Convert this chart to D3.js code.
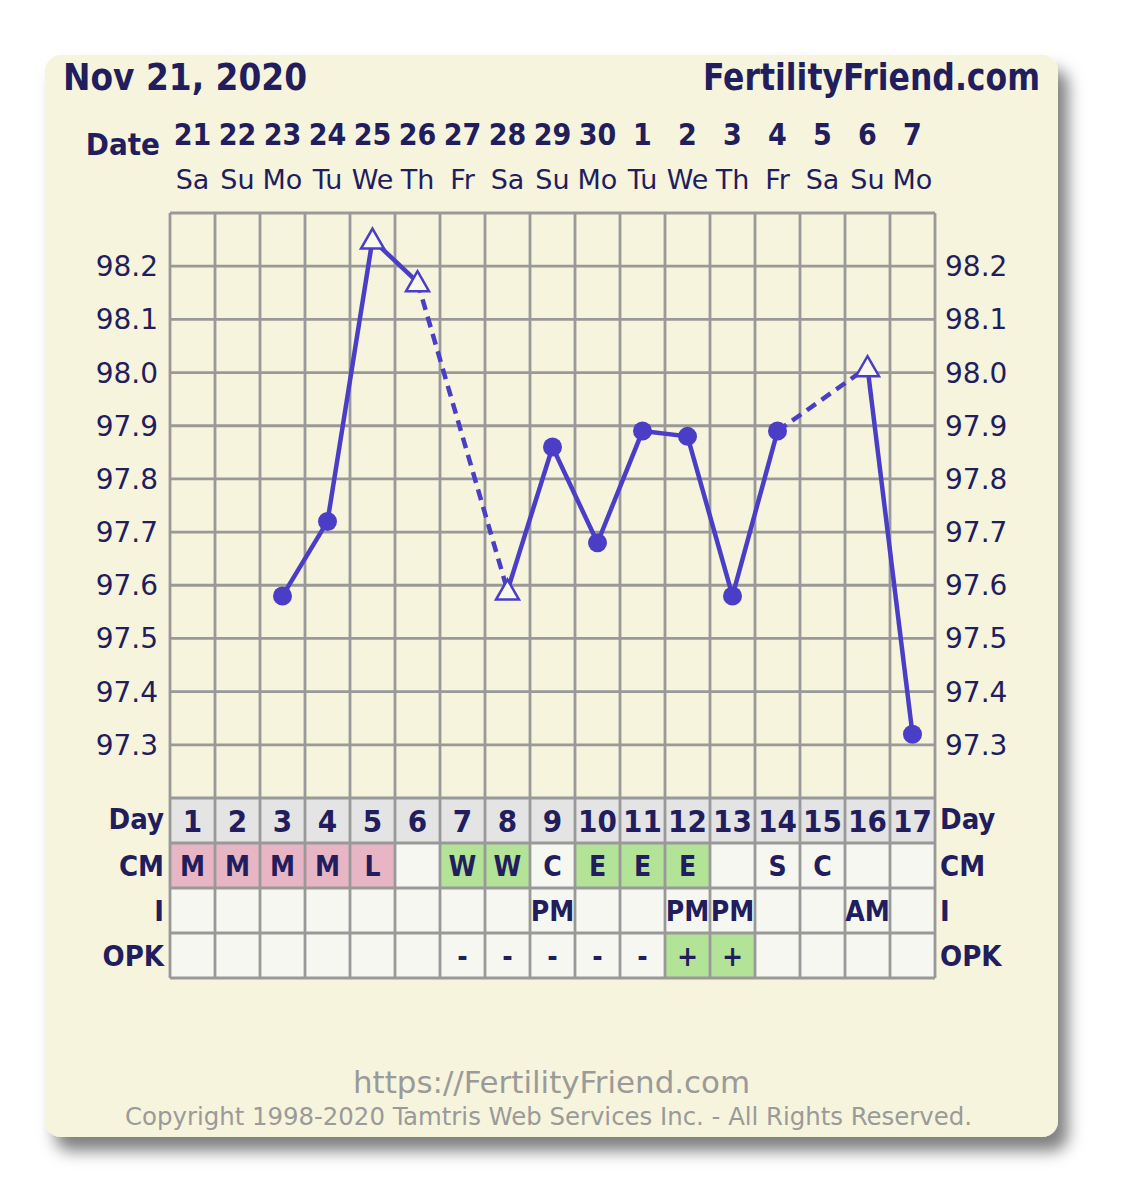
<!DOCTYPE html>
<html>
<head>
<meta charset="utf-8">
<script src="https://cdnjs.cloudflare.com/ajax/libs/d3/7.8.5/d3.min.js"></script>
<style>
  html, body { margin: 0; padding: 0; background: #ffffff; }
  svg { display: block; }
  .cond { font-family: "DejaVu Sans Condensed", "DejaVu Sans", sans-serif; font-stretch: condensed; }
  .reg { font-family: "DejaVu Sans", Verdana, sans-serif; }
</style>
</head>
<body>
<svg id="chart" width="1125" height="1178"></svg>
<script>
// chart data
var dates    = ["21","22","23","24","25","26","27","28","29","30","1","2","3","4","5","6","7"];
var weekdays = ["Sa","Su","Mo","Tu","We","Th","Fr","Sa","Su","Mo","Tu","We","Th","Fr","Sa","Su","Mo"];
var cycleDays = ["1","2","3","4","5","6","7","8","9","10","11","12","13","14","15","16","17"];
var temps    = [null, null, 97.58, 97.72, 98.25, 98.17, null, 97.59, 97.86, 97.68, 97.89, 97.88, 97.58, 97.89, null, 98.01, 97.32];
var tempMark = ["", "", "c", "c", "t", "t", "", "t", "c", "c", "c", "c", "c", "c", "", "t", "c"];
var cmVals   = ["M","M","M","M","L","","W","W","C","E","E","E","","S","C","",""];
var intVals  = ["","","","","","","","","PM","","","PM","PM","","","AM",""];
var opkVals  = ["","","","","","","-","-","-","-","-","+","+","","","",""];
var yTicks   = [97.3, 97.4, 97.5, 97.6, 97.7, 97.8, 97.9, 98.0, 98.1, 98.2];
var yGrid    = [97.2, 97.3, 97.4, 97.5, 97.6, 97.7, 97.8, 97.9, 98.0, 98.1, 98.2, 98.3];

var ink = "#221d5c";
var lineCol = "#4a3ec6";
var gridCol = "#999999";
var cardBg = "#f6f4dc";
var cellBg = "#f7f7f2";

var svg = d3.select("#chart");

var defs = svg.append("defs");
var f = defs.append("filter").attr("id", "shadow")
	.attr("x", "-5%").attr("y", "-5%").attr("width", "115%").attr("height", "115%");
f.append("feDropShadow").attr("dx", 10).attr("dy", 14).attr("stdDeviation", 8)
	.attr("flood-color", "#000").attr("flood-opacity", 0.5);

// card
svg.append("rect")
	.attr("x", 45).attr("y", 55).attr("width", 1013).attr("height", 1082)
	.attr("rx", 16).attr("ry", 16)
	.attr("fill", cardBg)
	.attr("filter", "url(#shadow)");

var gridLeft = 170, colW = 45, nCols = dates.length;
var gridRight = gridLeft + colW * nCols;
var rowH = 45;
var tableTop = 798;

var x = d3.scaleBand().domain(d3.range(nCols)).range([gridLeft, gridRight]);
var y = d3.scaleLinear().domain([97.2, 98.3]).range([tableTop, 213]);

var rows = [
	{ name: "Day", vals: cycleDays },
	{ name: "CM", vals: cmVals },
	{ name: "I", vals: intVals },
	{ name: "OPK", vals: opkVals }
];
var rowY = d3.scaleBand().domain(d3.range(rows.length)).range([tableTop, tableTop + rowH * rows.length]);

function cellFill(r, v) {
	if (r === 0) return "#e4e4e4";
	if (r === 1 && (v === "M" || v === "L")) return "#e7b5c3";
	if (r === 1 && (v === "W" || v === "E")) return "#b3e396";
	if (r === 3 && v === "+") return "#b3e396";
	return cellBg;
}

// title
svg.append("text").attr("class", "cond")
	.attr("x", 63).attr("y", 90)
	.attr("font-size", 38).attr("font-weight", "bold").attr("fill", ink)
	.attr("textLength", 244).attr("lengthAdjust", "spacingAndGlyphs")
	.text("Nov 21, 2020");
svg.append("text").attr("class", "cond")
	.attr("x", 703).attr("y", 90)
	.attr("font-size", 38).attr("font-weight", "bold").attr("fill", ink)
	.attr("textLength", 337).attr("lengthAdjust", "spacingAndGlyphs")
	.text("FertilityFriend.com");

// date header
svg.append("text").attr("class", "cond")
	.attr("x", 160).attr("y", 155).attr("text-anchor", "end")
	.attr("font-size", 31).attr("font-weight", "bold").attr("fill", ink)
	.text("Date");
svg.append("g").selectAll("text").data(dates).enter().append("text")
	.attr("class", "cond")
	.attr("x", function(d, i) { return x(i) + x.bandwidth() / 2; })
	.attr("y", 145).attr("text-anchor", "middle")
	.attr("font-size", 30).attr("font-weight", "bold").attr("fill", ink)
	.text(function(d) { return d; });
svg.append("g").selectAll("text").data(weekdays).enter().append("text")
	.attr("class", "reg")
	.attr("x", function(d, i) { return x(i) + x.bandwidth() / 2; })
	.attr("y", 189).attr("text-anchor", "middle")
	.attr("font-size", 27).attr("fill", ink)
	.text(function(d) { return d; });

// table cells
rows.forEach(function(row, r) {
	svg.append("g").selectAll("rect").data(row.vals).enter().append("rect")
		.attr("x", function(d, i) { return x(i); })
		.attr("y", rowY(r))
		.attr("width", x.bandwidth()).attr("height", rowY.bandwidth())
		.attr("fill", function(d) { return cellFill(r, d); });
});

// grid lines
var grid = svg.append("g").attr("stroke", gridCol).attr("stroke-width", 2.8);
grid.selectAll("line.h").data(yGrid).enter().append("line")
	.attr("x1", gridLeft).attr("x2", gridRight)
	.attr("y1", function(d) { return y(d); }).attr("y2", function(d) { return y(d); });
grid.selectAll("line.t").data(d3.range(1, rows.length + 1)).enter().append("line")
	.attr("x1", gridLeft).attr("x2", gridRight)
	.attr("y1", function(d) { return rowY(0) + d * rowY.step(); })
	.attr("y2", function(d) { return rowY(0) + d * rowY.step(); });
grid.selectAll("line.v").data(d3.range(nCols + 1)).enter().append("line")
	.attr("x1", function(d) { return gridLeft + d * x.step(); })
	.attr("x2", function(d) { return gridLeft + d * x.step(); })
	.attr("y1", y(98.3)).attr("y2", tableTop + rowH * rows.length);

// table texts
rows.forEach(function(row, r) {
	var cy = rowY(r) + rowY.bandwidth() / 2;
	svg.append("g").selectAll("text").data(row.vals).enter().append("text")
		.attr("class", "cond")
		.attr("x", function(d, i) { return x(i) + x.bandwidth() / 2; })
		.attr("y", cy + (r === 0 ? 11 : 10))
		.attr("text-anchor", "middle")
		.attr("font-size", r === 0 ? 31 : 28)
		.attr("font-weight", "bold").attr("fill", ink)
		.text(function(d) { return d; });
	svg.append("text").attr("class", "cond")
		.attr("x", 164).attr("y", cy + (r === 0 ? 8 : 10)).attr("text-anchor", "end")
		.attr("font-size", 29).attr("font-weight", "bold").attr("fill", ink)
		.text(row.name);
	svg.append("text").attr("class", "cond")
		.attr("x", 940).attr("y", cy + (r === 0 ? 8 : 10)).attr("text-anchor", "start")
		.attr("font-size", 29).attr("font-weight", "bold").attr("fill", ink)
		.text(row.name);
});

// y axis labels
var yl = svg.append("g");
yl.selectAll("text.l").data(yTicks).enter().append("text")
	.attr("class", "reg")
	.attr("x", 158).attr("y", function(d) { return y(d) + 10; })
	.attr("text-anchor", "end").attr("font-size", 28).attr("fill", ink)
	.text(function(d) { return d.toFixed(1); });
yl.selectAll("text.r").data(yTicks).enter().append("text")
	.attr("class", "reg")
	.attr("x", 945).attr("y", function(d) { return y(d) + 10; })
	.attr("text-anchor", "start").attr("font-size", 28).attr("fill", ink)
	.text(function(d) { return d.toFixed(1); });

// temperature line segments
var pts = [];
temps.forEach(function(t, i) { if (t !== null) pts.push({ i: i, t: t, m: tempMark[i] }); });
var segs = [];
for (var k = 1; k < pts.length; k++) segs.push({ a: pts[k - 1], b: pts[k], gap: pts[k].i - pts[k - 1].i > 1 });

function cx(d) { return x(d.i) + x.bandwidth() / 2; }

svg.append("g").selectAll("line").data(segs).enter().append("line")
	.attr("x1", function(d) { return cx(d.a); }).attr("y1", function(d) { return y(d.a.t); })
	.attr("x2", function(d) { return cx(d.b); }).attr("y2", function(d) { return y(d.b.t); })
	.attr("stroke", lineCol).attr("stroke-width", 4.5)
	.attr("stroke-dasharray", function(d) { return d.gap ? "11,7" : null; });

var mk = svg.append("g");
mk.selectAll("circle").data(pts.filter(function(d) { return d.m === "c"; })).enter().append("circle")
	.attr("cx", cx).attr("cy", function(d) { return y(d.t); })
	.attr("r", 9.5).attr("fill", lineCol);
mk.selectAll("path").data(pts.filter(function(d) { return d.m === "t"; })).enter().append("path")
	.attr("d", function(d) {
		var px = cx(d), py = y(d.t);
		return "M" + px + "," + (py - 11) + "L" + (px + 11.5) + "," + (py + 9) + "L" + (px - 11.5) + "," + (py + 9) + "Z";
	})
	.attr("fill", "#f9f8ee").attr("stroke", lineCol).attr("stroke-width", 2.5);

// footer
svg.append("text").attr("class", "cond")
	.attr("x", 353).attr("y", 1093)
	.attr("font-size", 31).attr("fill", "#9a9a9a")
	.attr("textLength", 397).attr("lengthAdjust", "spacingAndGlyphs")
	.text("https://FertilityFriend.com");
svg.append("text").attr("class", "cond")
	.attr("x", 125).attr("y", 1125)
	.attr("font-size", 25).attr("fill", "#9a9a9a")
	.attr("textLength", 847).attr("lengthAdjust", "spacingAndGlyphs")
	.text("Copyright 1998-2020 Tamtris Web Services Inc. - All Rights Reserved.");
</script>
</body>
</html>
